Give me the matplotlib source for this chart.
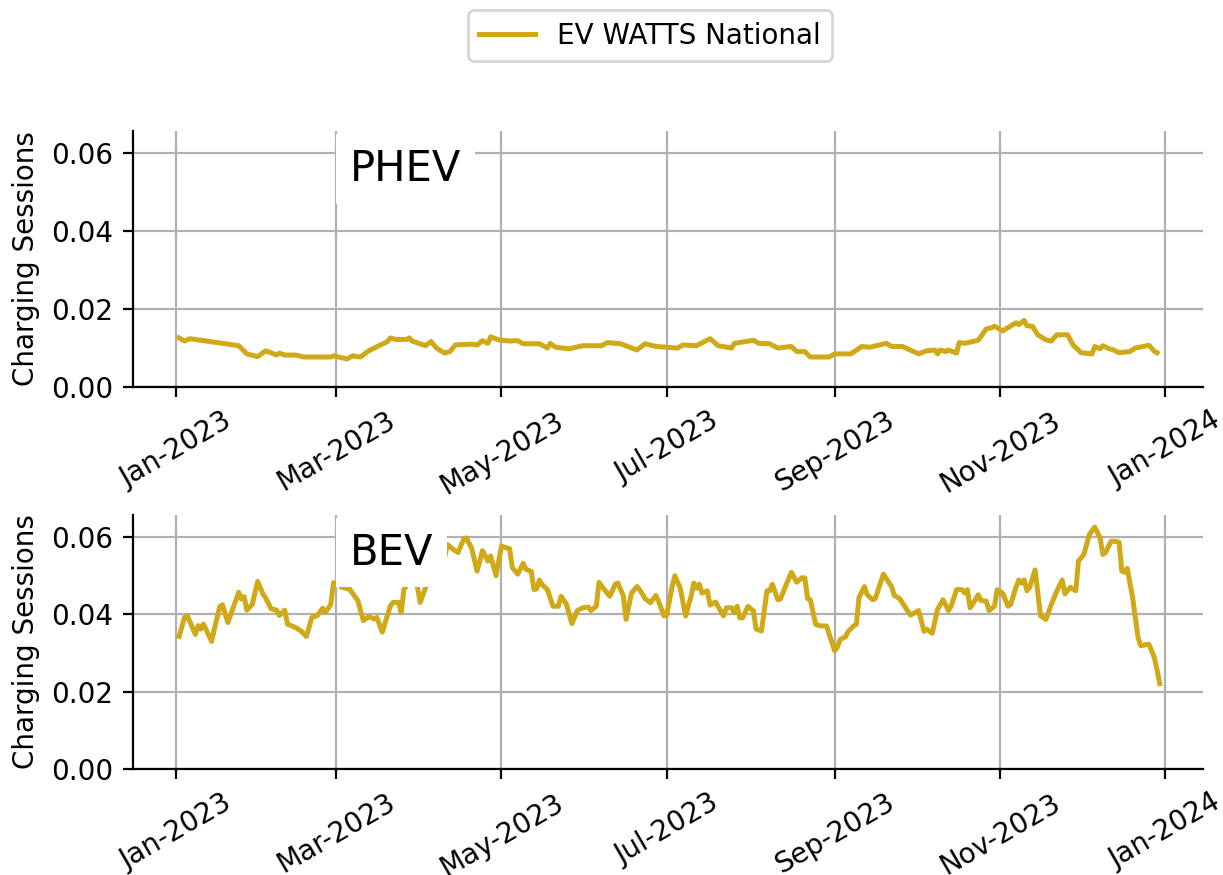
import pandas as pd
import matplotlib
matplotlib.use("Agg")
import matplotlib.pyplot as plt
import matplotlib.dates as mdates

# day offsets from 2023-01-01 and share of charging sessions
phev_days = [1, 3, 5, 23, 26, 30, 33, 37, 38, 40, 44, 47, 57, 58, 63, 65, 68, 71, 78, 79,
             81, 85, 86, 87, 92, 94, 96, 99, 101, 103, 109, 111, 113, 115, 116, 119, 123, 126, 128, 134,
             137, 138, 140, 145, 150, 157, 159, 164, 170, 173, 177, 185, 187, 192, 197, 200, 205, 206, 213, 215,
             219, 222, 227, 229, 232, 234, 241, 243, 249, 253, 256, 262, 264, 268, 274, 277, 280, 281, 282, 284,
             285, 288, 289, 291, 296, 299, 301, 302, 305, 310, 311, 313, 314, 316, 318, 321, 323, 325, 329, 331,
             334, 338, 339, 341, 342, 344, 346, 348, 352, 354, 359, 361, 362]
phev_vals = [0.0126, 0.0118, 0.0124, 0.0106, 0.0085, 0.0078, 0.0093, 0.0082, 0.0087, 0.0082,
             0.0082, 0.0077, 0.0077, 0.0080, 0.0072, 0.0080, 0.0077, 0.0093, 0.0117, 0.0126,
             0.0122, 0.0122, 0.0126, 0.0118, 0.0106, 0.0117, 0.0100, 0.0087, 0.0091, 0.0108,
             0.0110, 0.0108, 0.0119, 0.0112, 0.0129, 0.0121, 0.0118, 0.0119, 0.0111, 0.0111,
             0.0100, 0.0112, 0.0102, 0.0098, 0.0106, 0.0106, 0.0114, 0.0111, 0.0095, 0.0111,
             0.0104, 0.0100, 0.0108, 0.0106, 0.0124, 0.0106, 0.0100, 0.0112, 0.0120, 0.0112,
             0.0111, 0.0100, 0.0104, 0.0091, 0.0091, 0.0077, 0.0077, 0.0085, 0.0085, 0.0104,
             0.0102, 0.0112, 0.0104, 0.0104, 0.0085, 0.0093, 0.0095, 0.0085, 0.0095, 0.0091,
             0.0095, 0.0087, 0.0114, 0.0112, 0.0120, 0.0149, 0.0152, 0.0156, 0.0144, 0.0165,
             0.0160, 0.0171, 0.0157, 0.0156, 0.0134, 0.0121, 0.0118, 0.0134, 0.0134, 0.0108,
             0.0088, 0.0085, 0.0104, 0.0098, 0.0106, 0.0099, 0.0095, 0.0088, 0.0091, 0.0100,
             0.0107, 0.0092, 0.0088]

bev_days = [1, 3, 4, 7, 8, 9, 10, 13, 14, 16, 17, 19, 23, 24, 25, 26, 28, 30, 32, 33,
            35, 37, 38, 40, 41, 44, 46, 48, 50, 52, 54, 55, 57, 58, 60, 61, 64, 67, 69, 71,
            73, 74, 76, 79, 80, 82, 83, 84, 87, 89, 90, 92, 95, 98, 100, 102, 104, 106, 107, 109,
            111, 113, 115, 116, 118, 120, 121, 123, 124, 126, 128, 129, 131, 132, 133, 134, 135, 137, 139, 141,
            142, 144, 146, 148, 150, 152, 153, 155, 156, 158, 160, 162, 163, 165, 166, 168, 170, 171, 173, 175,
            177, 178, 180, 181, 183, 184, 186, 188, 190, 191, 192, 193, 194, 196, 197, 199, 202, 203, 205, 206,
            207, 208, 209, 211, 213, 214, 216, 218, 219, 220, 222, 223, 227, 229, 231, 232, 233, 234, 236, 238,
            240, 243, 244, 245, 247, 248, 250, 251, 252, 254, 255, 257, 258, 261, 264, 265, 267, 269, 271, 274,
            276, 277, 279, 281, 283, 285, 286, 288, 290, 291, 292, 293, 295, 296, 297, 299, 300, 302, 303, 305,
            307, 308, 310, 311, 312, 313, 314, 315, 317, 319, 321, 323, 325, 327, 328, 330, 332, 333, 335, 337,
            339, 341, 342, 343, 345, 347, 348, 349, 350, 351, 353, 355, 356, 359, 361, 362, 363]
bev_vals = [0.0343, 0.0392, 0.0397, 0.0348, 0.0371, 0.0362, 0.0375, 0.0330, 0.0362, 0.0420,
            0.0425, 0.0379, 0.0457, 0.0440, 0.0446, 0.0411, 0.0426, 0.0485, 0.0452, 0.0442,
            0.0414, 0.0411, 0.0397, 0.0411, 0.0375, 0.0366, 0.0357, 0.0343, 0.0392, 0.0397,
            0.0416, 0.0405, 0.0426, 0.0482, 0.0480, 0.0470, 0.0465, 0.0435, 0.0384, 0.0394,
            0.0388, 0.0392, 0.0354, 0.0422, 0.0431, 0.0431, 0.0405, 0.0465, 0.0495, 0.0470,
            0.0431, 0.0470, 0.0505, 0.0512, 0.0581, 0.0569, 0.0560, 0.0594, 0.0598, 0.0571,
            0.0512, 0.0565, 0.0538, 0.0551, 0.0500, 0.0577, 0.0574, 0.0570, 0.0521, 0.0504,
            0.0532, 0.0517, 0.0511, 0.0464, 0.0466, 0.0489, 0.0477, 0.0464, 0.0421, 0.0421,
            0.0447, 0.0426, 0.0376, 0.0410, 0.0417, 0.0419, 0.0410, 0.0421, 0.0483, 0.0464,
            0.0447, 0.0478, 0.0481, 0.0447, 0.0387, 0.0455, 0.0472, 0.0464, 0.0441, 0.0430,
            0.0449, 0.0434, 0.0396, 0.0398, 0.0472, 0.0500, 0.0468, 0.0396, 0.0447, 0.0481,
            0.0468, 0.0478, 0.0455, 0.0461, 0.0424, 0.0432, 0.0396, 0.0417, 0.0417, 0.0404,
            0.0421, 0.0391, 0.0391, 0.0421, 0.0409, 0.0362, 0.0357, 0.0461, 0.0461, 0.0478,
            0.0438, 0.0440, 0.0509, 0.0483, 0.0495, 0.0494, 0.0441, 0.0438, 0.0374, 0.0370,
            0.0370, 0.0306, 0.0315, 0.0335, 0.0342, 0.0356, 0.0370, 0.0374, 0.0444, 0.0472,
            0.0451, 0.0438, 0.0441, 0.0504, 0.0472, 0.0449, 0.0441, 0.0419, 0.0398, 0.0410,
            0.0356, 0.0362, 0.0351, 0.0413, 0.0438, 0.0410, 0.0421, 0.0464, 0.0464, 0.0455,
            0.0464, 0.0417, 0.0438, 0.0451, 0.0436, 0.0434, 0.0410, 0.0421, 0.0464, 0.0455,
            0.0421, 0.0426, 0.0472, 0.0489, 0.0481, 0.0489, 0.0461, 0.0470, 0.0515, 0.0396,
            0.0387, 0.0426, 0.0460, 0.0489, 0.0453, 0.0470, 0.0461, 0.0538, 0.0555, 0.0606,
            0.0626, 0.0597, 0.0555, 0.0560, 0.0589, 0.0589, 0.0586, 0.0512, 0.0509, 0.0519,
            0.0443, 0.0340, 0.0319, 0.0323, 0.0289, 0.0257, 0.0221]

panel_labels = ["PHEV", "BEV"]
series_name = "EV WATTS National"
LINE_COLOR = "#CFA917"

start = pd.Timestamp("2023-01-01")
phev_dates = start + pd.to_timedelta(phev_days, unit="D")
bev_dates = start + pd.to_timedelta(bev_days, unit="D")

fig = plt.figure(figsize=(6.115, 4.375), dpi=200)
ax1 = fig.add_axes([0.1088, 0.5577, 0.8749, 0.2926])
ax2 = fig.add_axes([0.1088, 0.1211, 0.8749, 0.2903])

panels = [(ax1, phev_dates, phev_vals), (ax2, bev_dates, bev_vals)]
for (ax, d, v), lab in zip(panels, panel_labels):
    line, = ax.plot(d, v, color=LINE_COLOR, lw=1.8, label=series_name)
    ax.set_ylim(0, 0.0657)
    ax.set_xlim(pd.Timestamp("2022-12-16"), pd.Timestamp("2024-01-15"))
    ax.set_yticks([0, 0.02, 0.04, 0.06])
    ax.xaxis.set_major_locator(mdates.MonthLocator(bymonth=[1, 3, 5, 7, 9, 11]))
    ax.xaxis.set_major_formatter(mdates.DateFormatter("%b-%Y"))
    ax.tick_params(axis="x", labelrotation=30)
    ax.grid(True)
    ax.set_axisbelow(True)
    ax.spines["top"].set_visible(False)
    ax.spines["right"].set_visible(False)
    ax.set_ylabel("Charging Sessions")
    ax.text(pd.Timestamp("2023-03-06"), 0.0560, lab, fontsize=15, ha="left", va="center",
            zorder=5, bbox=dict(facecolor="white", edgecolor="none", pad=5))

fig.legend(handles=[line], loc="upper center", bbox_to_anchor=(0.5315, 1.004))

fig.savefig("out.png", dpi=200)
